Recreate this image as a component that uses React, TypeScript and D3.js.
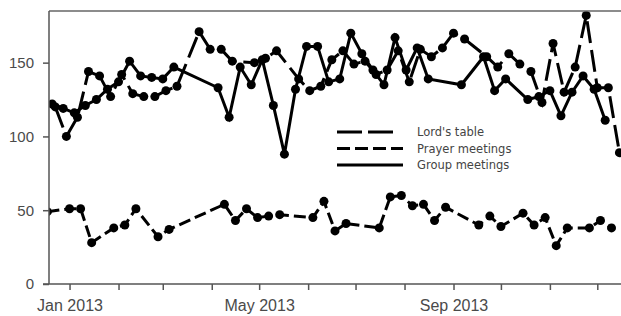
import { useEffect, useMemo, useRef } from "react";
import * as d3 from "d3";

const WIDTH = 621;
const HEIGHT = 316;
const MARGIN = { top: 11, right: 0, bottom: 32, left: 49 };

// weekly series, first meeting of each list (null = no meeting recorded)
const LORD_START = new Date(2012, 11, 23);
const PRAYER_START = new Date(2012, 11, 18);
const GROUP_START = new Date(2012, 11, 21);

const lordsTable = [
  120, 100, 113, 144, 141, 127, 142, 129, 127, 127, 131, 134, null, 171, 159, 159,
  151, null, 150, 153, 158, null, 139, 131, 134, 152, 158, 149, 151, 142, 145, 158,
  137, 159, 154, 160, 170, 166, null, 154, 147, 156, 149, 144, 123, 163, 130, 147,
  182, 133, 133, 89,
];

const prayerMeetings = [
  49, null, 51, 51, 28, null, 38, 40, 51, null, 32, 37, null, null, null, null,
  54, 43, 51, 45, 46, 47, null, null, 45, 56, 36, 41, null, null, 38, 59,
  60, 53, 54, 43, 52, null, null, 40, 46, 39, null, 48, 40, 45, 26, 38,
  null, 38, 43, 38,
];

const groupMeetings = [
  122, 119, 116, 121, 125, 132, 137, 151, 141, 140, 139, 147, null, null, null, 133,
  113, 147, 135, 152, 121, 88, 132, 161, 161, 137, 139, 170, 156, 145, 135, 167,
  145, 160, 139, null, null, 135, null, 154, 131, 139, null, 125, 127, 131, 114, 130,
  141, 132, 111, null,
];

const Y_TICKS = [0, 50, 100, 150];
const LABEL_MONTHS = [0, 4, 8];

const SERIES = [
  { name: "Lord's table", start: LORD_START, values: lordsTable, dash: "22,7", key: "25,6", keyLen: 56 },
  { name: "Prayer meetings", start: PRAYER_START, values: prayerMeetings, dash: "12,5", key: "13,5", keyLen: 66 },
  { name: "Group meetings", start: GROUP_START, values: groupMeetings, dash: "none", key: "none", keyLen: 66 },
];

type Pt = { date: Date; value: number };

const toPoints = (start: Date, values: (number | null)[]): Pt[] =>
  values
    .map((v, i) => ({ date: d3.timeDay.offset(start, i * 7), value: v }))
    .filter((d): d is Pt => d.value !== null);

export default function App() {
  const xAxisRef = useRef<SVGGElement>(null);
  const yAxisRef = useRef<SVGGElement>(null);
  const boundsWidth = WIDTH - MARGIN.left - MARGIN.right;
  const boundsHeight = HEIGHT - MARGIN.top - MARGIN.bottom;

  const xScale = useMemo(
    () =>
      d3
        .scaleTime()
        .domain([new Date(2012, 11, 19), new Date(2013, 11, 16)])
        .range([0, boundsWidth]),
    [boundsWidth]
  );
  const yScale = useMemo(
    () => d3.scaleLinear().domain([0, 185]).range([boundsHeight, 0]),
    [boundsHeight]
  );

  useEffect(() => {
    const xg = d3.select(xAxisRef.current);
    xg.selectAll("*").remove();
    const xAxis = d3
      .axisBottom<Date>(xScale)
      .tickValues(d3.timeMonth.range(new Date(2013, 0, 1), new Date(2013, 11, 2)))
      .tickSize(6)
      .tickPadding(10)
      .tickFormat((d) =>
        LABEL_MONTHS.includes(d.getMonth()) ? d3.timeFormat("%b %Y")(d) : ""
      );
    xg.call(xAxis as any);
    xg.select(".domain").remove();
    xg.selectAll("line").attr("stroke", "#555").attr("stroke-width", 1.5);
    xg.selectAll("text")
      .attr("fill", "#4a4a4a")
      .style("font-family", "'Liberation Sans', Arial, sans-serif")
      .style("font-size", "16px");

    const yg = d3.select(yAxisRef.current);
    yg.selectAll("*").remove();
    const yAxis = d3.axisLeft(yScale).tickValues(Y_TICKS).tickSize(6).tickPadding(9);
    yg.call(yAxis as any);
    yg.select(".domain").remove();
    yg.selectAll("line").attr("stroke", "#555").attr("stroke-width", 1.5);
    yg.selectAll("text")
      .attr("fill", "#4a4a4a")
      .style("font-family", "'Liberation Sans', Arial, sans-serif")
      .style("font-size", "15px");
  }, [xScale, yScale]);

  const lineGen = d3
    .line<Pt>()
    .x((d) => xScale(d.date))
    .y((d) => yScale(d.value));

  const legendX = 288;
  const legendY = [121, 137.5, 154];

  return (
    <svg
      width={WIDTH}
      height={HEIGHT}
      style={{ position: "absolute", left: 0, top: 0, background: "#fff" }}
    >
      <defs>
        <clipPath id="plot-clip">
          <rect x={0} y={-MARGIN.top} width={boundsWidth} height={boundsHeight + MARGIN.top} />
        </clipPath>
      </defs>
      <g transform={`translate(${MARGIN.left},${MARGIN.top})`}>
        <g clipPath="url(#plot-clip)">
          {SERIES.map((s) => {
            const pts = toPoints(s.start, s.values);
            return (
              <g key={s.name}>
                <path
                  d={lineGen(pts) || ""}
                  fill="none"
                  stroke="#000"
                  strokeWidth={3}
                  strokeDasharray={s.dash}
                />
                {pts.map((d, i) => (
                  <circle key={i} cx={xScale(d.date)} cy={yScale(d.value)} r={4.5} fill="#000" />
                ))}
              </g>
            );
          })}
        </g>

        {/* frame */}
        <line x1={0} x2={boundsWidth} y1={0} y2={0} stroke="#666" strokeWidth={1.5} />
        <line x1={0} x2={0} y1={0} y2={boundsHeight} stroke="#555" strokeWidth={1.5} />
        <line x1={-6} x2={boundsWidth} y1={boundsHeight} y2={boundsHeight} stroke="#555" strokeWidth={1.5} />
        <g ref={xAxisRef} transform={`translate(0,${boundsHeight})`} />
        <g ref={yAxisRef} />

        {/* legend */}
        {SERIES.map((s, i) => (
          <g key={s.name} transform={`translate(${legendX},${legendY[i]})`}>
            <line x1={0} x2={s.keyLen} y1={0} y2={0} stroke="#000" strokeWidth={3} strokeDasharray={s.key} />
            <text
              x={80}
              y={0}
              dy="0.35em"
              fill="#444"
              style={{ fontFamily: "'DejaVu Sans', Verdana, sans-serif", fontSize: "11.5px" }}
            >
              {s.name}
            </text>
          </g>
        ))}
      </g>
    </svg>
  );
}
